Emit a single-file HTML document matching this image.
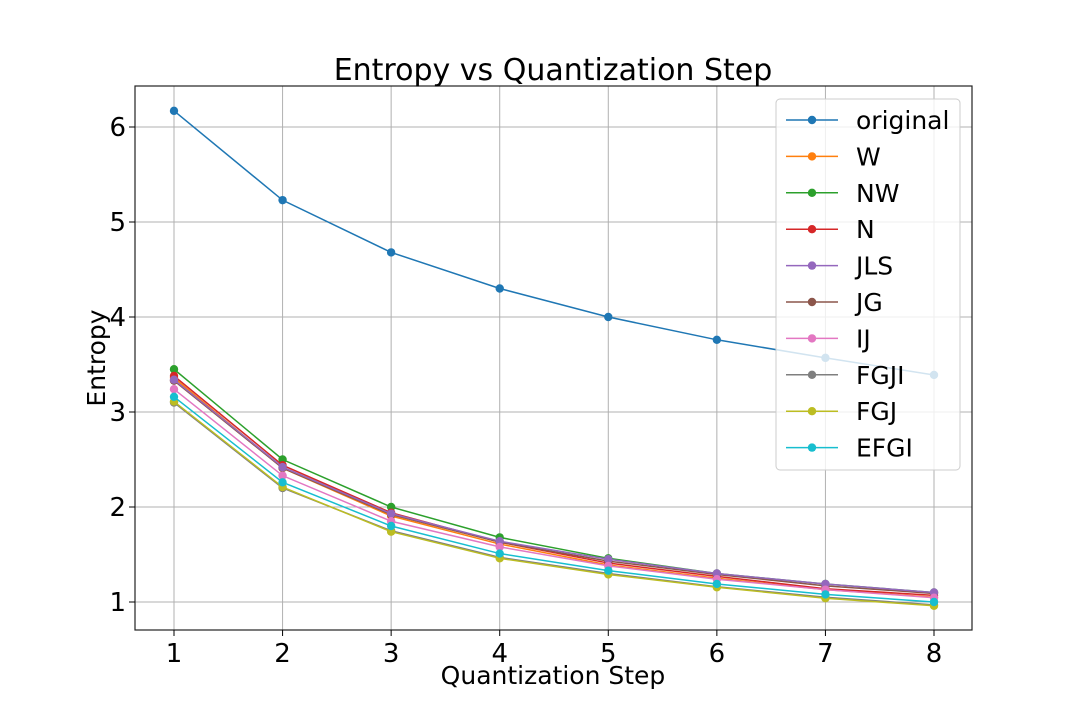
<!DOCTYPE html>
<html><head><meta charset="utf-8"><style>
body{margin:0;background:#fff;}
svg text{font-family:"DejaVu Sans","Liberation Sans",sans-serif;fill:#000;}
</style></head><body>
<svg id="chart" width="1080" height="720" xmlns="http://www.w3.org/2000/svg">
<rect width="1080" height="720" fill="#fff"/>
<g id="grid"></g>
<g id="series"></g>
<rect x="135" y="86" width="837" height="544" fill="none" stroke="#222" stroke-width="1.2"/>
<g id="ticks"></g>
<text x="553" y="80" font-size="30" text-anchor="middle">Entropy vs Quantization Step</text>
<text x="553" y="684" font-size="25" text-anchor="middle">Quantization Step</text>
<text x="105" y="358" font-size="25" text-anchor="middle" transform="rotate(-90 105 358)">Entropy</text>
<g id="legend"></g>
</svg>
<script>
const steps=[1,2,3,4,5,6,7,8];
const seriesNames=["original","W","NW","N","JLS","JG","IJ","FGJI","FGJ","EFGI"];
const colors=["#1f77b4","#ff7f0e","#2ca02c","#d62728","#9467bd","#8c564b","#e377c2","#7f7f7f","#bcbd22","#17becf"];
const vOriginal=[6.17,5.23,4.68,4.30,4.00,3.76,3.57,3.39];
const vW=[3.36,2.41,1.905,1.61,1.39,1.25,1.13,1.05];
const vNW=[3.45,2.50,2.00,1.68,1.46,1.30,1.19,1.10];
const vN=[3.38,2.44,1.94,1.63,1.41,1.27,1.14,1.07];
const vJLS=[3.34,2.42,1.93,1.64,1.45,1.30,1.19,1.10];
const vJG=[3.33,2.41,1.92,1.63,1.43,1.29,1.17,1.09];
const vIJ=[3.24,2.33,1.85,1.58,1.38,1.24,1.13,1.045];
const vFGJI=[3.10,2.20,1.75,1.47,1.30,1.16,1.05,0.97];
const vFGJ=[3.11,2.21,1.74,1.46,1.29,1.155,1.04,0.96];
const vEFGI=[3.16,2.26,1.80,1.51,1.33,1.19,1.08,1.00];
const allSeries=[vOriginal,vW,vNW,vN,vJLS,vJG,vIJ,vFGJI,vFGJ,vEFGI];
const drawOrder=[0,1,2,3,5,4,6,7,8,9];
const yTicks=[1,2,3,4,5,6];
const xTicks=[1,2,3,4,5,6,7,8];
const NS="http://www.w3.org/2000/svg";
const xs=v=>174+(v-1)*(934-174)/7;
const ys=v=>602-(v-1)*95;
function mk(tag,attrs,parent){const e=document.createElementNS(NS,tag);for(const k in attrs)e.setAttribute(k,attrs[k]);parent.appendChild(e);return e;}
const grid=document.getElementById('grid'),ticks=document.getElementById('ticks'),ser=document.getElementById('series'),leg=document.getElementById('legend');
xTicks.forEach(t=>{const x=xs(t);
 const g=mk('line',{x1:x,x2:x,y1:86,y2:630,stroke:'#b0b0b0','stroke-width':1},grid);
 
 mk('line',{x1:x,x2:x,y1:630,y2:636,stroke:'#000','stroke-width':1},ticks);
 const tx=mk('text',{x:x,y:662,'font-size':26,'text-anchor':'middle'},ticks);tx.textContent=t;
 });
yTicks.forEach(t=>{const y=ys(t);
 const g=mk('line',{x1:135,x2:972,y1:y,y2:y,stroke:'#b0b0b0','stroke-width':1},grid);
 
 mk('line',{x1:129,x2:135,y1:y,y2:y,stroke:'#000','stroke-width':1},ticks);
 const tx=mk('text',{x:126,y:y+9,'font-size':26,'text-anchor':'end'},ticks);tx.textContent=t;
 });
drawOrder.forEach(i=>{const vals=allSeries[i];
 const g=mk('g',{},ser);
 
 
 mk('polyline',{points:vals.map((v,j)=>xs(steps[j])+','+ys(v)).join(' '),fill:'none',stroke:colors[i],'stroke-width':1.5},g);
 vals.forEach((v,j)=>{const c=mk('circle',{cx:xs(steps[j]),cy:ys(v),r:4.2,fill:colors[i]},g);
  });
});
const lb=mk('rect',{x:776,y:99,width:184,height:371,rx:4,fill:'#fff','fill-opacity':0.8,stroke:'#ccc'},leg);

seriesNames.forEach((n,i)=>{const y=120+i*36.4;
 const g=mk('g',{},leg);
 
 mk('line',{x1:786,x2:838,y1:y,y2:y,stroke:colors[i],'stroke-width':1.5},g);
 mk('circle',{cx:812,cy:y,r:4.2,fill:colors[i]},g);
 const t=mk('text',{x:856,y:y+9,'font-size':25},g);t.textContent=n;});
</script>
</body></html>
